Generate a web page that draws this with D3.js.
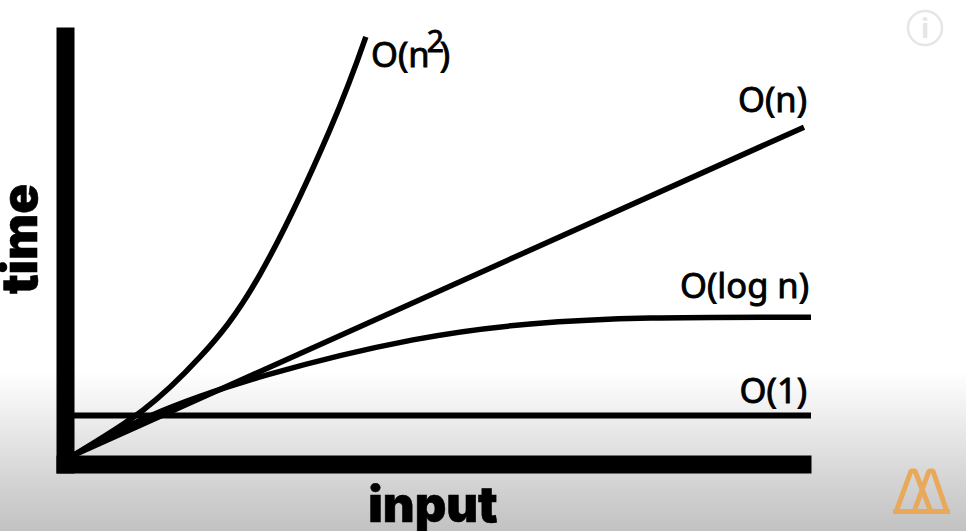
<!DOCTYPE html>
<html>
<head>
<meta charset="utf-8">
<script src="https://cdn.jsdelivr.net/npm/d3@7"></script>
<style>
  html, body { margin: 0; padding: 0; background: #fff; }
  svg { display: block; }
  .curve-label { font-family: "Noto Sans", sans-serif; font-size: 34.5px; fill: #000; stroke: #000; stroke-width: 0.9px; }
  .axis-title { font-family: Inter, sans-serif; font-size: 49px; font-weight: 900; fill: #000; stroke: #000; stroke-width: 0.6px; }
</style>
</head>
<body>
<svg id="chart" width="966" height="531"></svg>
<script>
// values, in percent of the plot box
const constantX = [0, 100];
const constantY = [9.2, 9.2];

const logX = [0, 10.3, 26.2, 46, 61.9, 78.2, 100];
const logY = [0, 9.1, 18.7, 26.9, 30.6, 32, 32.2];

const linearX = [0, 99.05];
const linearY = [0, 76.6];

const squaredX = [0, 9.4, 17.1, 25.2, 34.7, 39.6];
const squaredY = [0, 10.5, 22.9, 42.1, 75.9, 97.7];

const width = 966, height = 531;
const svg = d3.select('#chart');

const x = d3.scaleLinear().domain([0, 100]).range([74, 811]);
const y = d3.scaleLinear().domain([0, 100]).range([455, 27]);

// grey fade at the bottom of the frame
const grad = svg.append('defs').append('linearGradient')
  .attr('id', 'fade')
  .attr('x1', 0).attr('x2', 0).attr('y1', 0).attr('y2', 1);
[[0, '#ffffff'], [0.7, '#ffffff'], [0.81, '#e8e8e8'], [0.895, '#d6d6d6'], [1, '#c2c2c2']]
  .forEach(s => grad.append('stop').attr('offset', s[0]).attr('stop-color', s[1]));

svg.append('rect')
  .attr('width', width)
  .attr('height', height)
  .attr('fill', 'url(#fade)');

const line = d3.line()
  .x(d => x(d[0]))
  .y(d => y(d[1]));

function drawCurve(xs, ys, strokeWidth, curve) {
  svg.append('path')
    .attr('fill', 'none')
    .attr('stroke', '#000')
    .attr('stroke-width', strokeWidth)
    .attr('d', line.curve(curve)(d3.zip(xs, ys)));
}

drawCurve(constantX, constantY, 6, d3.curveLinear);
drawCurve(linearX, linearY, 5.5, d3.curveLinear);
drawCurve(logX, logY, 5.5, d3.curveNatural);
drawCurve(squaredX, squaredY, 5.5, d3.curveNatural);

// the thick axes are only the domain lines, no ticks
const xAxisScale = x.copy().range([56, 811]);
const yAxisScale = y.copy().range([473, 27]);

svg.append('g')
  .attr('transform', 'translate(0,464)')
  .call(d3.axisBottom(xAxisScale).tickValues([]).tickSizeOuter(0))
  .call(g => g.select('.domain').attr('stroke', '#000').attr('stroke-width', 18));

svg.append('g')
  .attr('transform', 'translate(65,0)')
  .call(d3.axisLeft(yAxisScale).tickValues([]).tickSizeOuter(0))
  .call(g => g.select('.domain').attr('stroke', '#000').attr('stroke-width', 18));

// curve labels
function label(text, px, py) {
  svg.append('text')
    .attr('class', 'curve-label')
    .attr('x', px)
    .attr('y', py)
    .attr('text-anchor', 'end')
    .text(text);
}
label('O(n)', 807, 112);
label('O(log n)', 809, 298);
label('O(1)', 807, 403);

const squaredLabel = svg.append('text')
  .attr('class', 'curve-label')
  .attr('x', 371)
  .attr('y', 67);
squaredLabel.append('tspan').text('O(n');
squaredLabel.append('tspan')
  .attr('dy', -15)
  .attr('dx', -3)
  .attr('font-size', 30)
  .text('2');
squaredLabel.append('tspan')
  .attr('dy', 15)
  .attr('dx', -4)
  .text(')');

// axis titles
svg.append('text')
  .attr('class', 'axis-title')
  .attr('x', 433)
  .attr('y', 522)
  .attr('text-anchor', 'middle')
  .text('input');

svg.append('text')
  .attr('class', 'axis-title')
  .attr('transform', 'translate(37,239) rotate(-90)')
  .attr('text-anchor', 'middle')
  .text('time');

// info button, top right
const info = svg.append('g').attr('transform', 'translate(925,28)');
info.append('circle')
  .attr('r', 17)
  .attr('fill', 'none')
  .attr('stroke', '#e6e6e6')
  .attr('stroke-width', 2.5);
info.append('text')
  .attr('text-anchor', 'middle')
  .attr('y', 10)
  .attr('font-family', '"Noto Sans", sans-serif')
  .attr('font-size', 27)
  .attr('font-weight', 700)
  .attr('fill', '#e6e6e6')
  .text('i');

// orange logo, bottom right
const logo = svg.append('g')
  .attr('fill', 'none')
  .attr('stroke', '#e9a95b')
  .attr('stroke-width', 5)
  .attr('stroke-linejoin', 'bevel');
logo.append('path').attr('d', 'M896,512 L911,471 H915 L931,512');
logo.append('path').attr('d', 'M914,512 L929,471 H933 L947,512');
logo.append('path').attr('d', 'M893,511.5 H950');
</script>
</body>
</html>
